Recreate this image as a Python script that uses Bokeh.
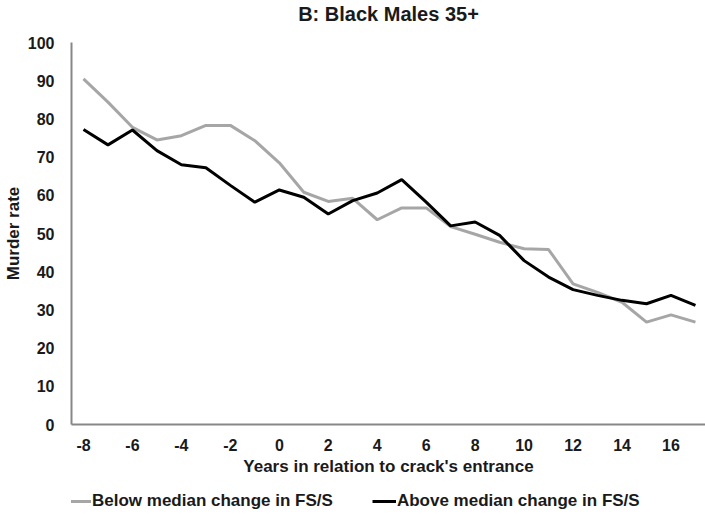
from bokeh.plotting import figure
from bokeh.layouts import column
from bokeh.models import Range1d, FixedTicker, Legend, LegendItem
from bokeh.embed import file_html
from bokeh.resources import INLINE

years = list(range(-8, 18))
below_median = [90.5, 84.4, 77.8, 74.5, 75.6, 78.3, 78.3, 74.3, 68.5, 60.8, 58.4, 59.2, 53.6, 56.7,
                56.7, 51.8, 49.8, 47.7, 46.0, 45.8, 36.8, 34.6, 32.0, 26.8, 28.7, 26.8]
above_median = [77.2, 73.2, 77.1, 71.7, 68.0, 67.2, 62.6, 58.2, 61.4, 59.5, 55.1, 58.6, 60.6, 64.1,
                58.2, 52.0, 53.0, 49.5, 42.9, 38.6, 35.3, 33.8, 32.5, 31.6, 33.8, 31.2]
series_names = ["Below median change in FS/S", "Above median change in FS/S"]
chart_title = "B: Black Males 35+"
x_ticks = list(range(-8, 17, 2))
y_ticks = list(range(0, 101, 10))

FONT = "Liberation Sans"
GRAY = "#a6a6a6"
BLACK = "#000000"
TEXT = "#1a1a1a"

# title strip (centred on the whole page width, as in the reference)
tf = figure(width=705, height=30, output_backend="svg", toolbar_location=None,
            x_axis_type=None, y_axis_type=None, x_range=Range1d(0, 1), y_range=Range1d(0, 1),
            min_border_left=0, min_border_right=0, min_border_top=0, min_border_bottom=0,
            title=chart_title)
tf.outline_line_color = None
tf.xgrid.grid_line_color = None
tf.ygrid.grid_line_color = None
tf.title.align = "center"
tf.title.text_font = FONT
tf.title.text_font_style = "bold"
tf.title.text_font_size = "20px"
tf.title.text_color = TEXT
tf.title.standoff = 0

p = figure(width=705, height=454, output_backend="svg", toolbar_location=None,
           x_range=Range1d(-8.49, 17.41), y_range=Range1d(0, 100),
           min_border_left=68, min_border_right=0, min_border_top=12, min_border_bottom=60)
p.outline_line_color = None
p.xgrid.grid_line_color = None
p.ygrid.grid_line_color = None

p.line(years, below_median, line_color=GRAY, line_width=3)
p.line(years, above_median, line_color=BLACK, line_width=3)

for ax in (p.xaxis[0], p.yaxis[0]):
    ax.axis_line_color = "#878787"
    ax.axis_line_width = 2
    ax.major_tick_line_color = None
    ax.minor_tick_line_color = None
    ax.major_tick_out = 0
    ax.major_tick_in = 0
    ax.minor_tick_out = 0
    ax.minor_tick_in = 0
    ax.major_label_text_font = FONT
    ax.major_label_text_font_style = "bold"
    ax.major_label_text_font_size = "16px"
    ax.major_label_text_color = TEXT
    ax.axis_label_text_font = FONT
    ax.axis_label_text_font_style = "bold"
    ax.axis_label_text_font_size = "17px"
    ax.axis_label_text_color = TEXT

p.xaxis[0].ticker = FixedTicker(ticks=x_ticks)
p.xaxis[0].major_label_overrides = {t: str(t) for t in x_ticks}
p.yaxis[0].ticker = FixedTicker(ticks=y_ticks)
p.xaxis[0].major_label_standoff = 14
p.yaxis[0].major_label_standoff = 17
p.xaxis[0].axis_label = "Years in relation to crack's entrance"
p.yaxis[0].axis_label = "Murder rate"
p.xaxis[0].axis_label_standoff = 3
p.yaxis[0].axis_label_standoff = 2

# legend strip below the chart (its lines lie outside the strip's ranges)
lf = figure(width=705, height=30, output_backend="svg", toolbar_location=None,
            x_axis_type=None, y_axis_type=None, x_range=Range1d(1000, 1001), y_range=Range1d(1000, 1001),
            min_border_left=0, min_border_right=0, min_border_top=0, min_border_bottom=0)
lf.outline_line_color = None
lf.xgrid.grid_line_color = None
lf.ygrid.grid_line_color = None
l1 = lf.line(years, below_median, line_color=GRAY, line_width=3)
l2 = lf.line(years, above_median, line_color=BLACK, line_width=3)

legend = Legend(items=[LegendItem(label=series_names[0], renderers=[l1]),
                       LegendItem(label=series_names[1], renderers=[l2])],
                orientation="horizontal", location=(-4, 3),
                glyph_width=24, glyph_height=20, label_standoff=1, spacing=39,
                padding=0, margin=0, border_line_color=None, background_fill_alpha=0,
                label_text_font=FONT, label_text_font_style="bold", label_text_font_size="17px",
                label_text_color=TEXT)
lf.add_layout(legend, "center")

layout = column(tf, p, lf, spacing=0)
open("out.html", "w").write(file_html(layout, INLINE))
